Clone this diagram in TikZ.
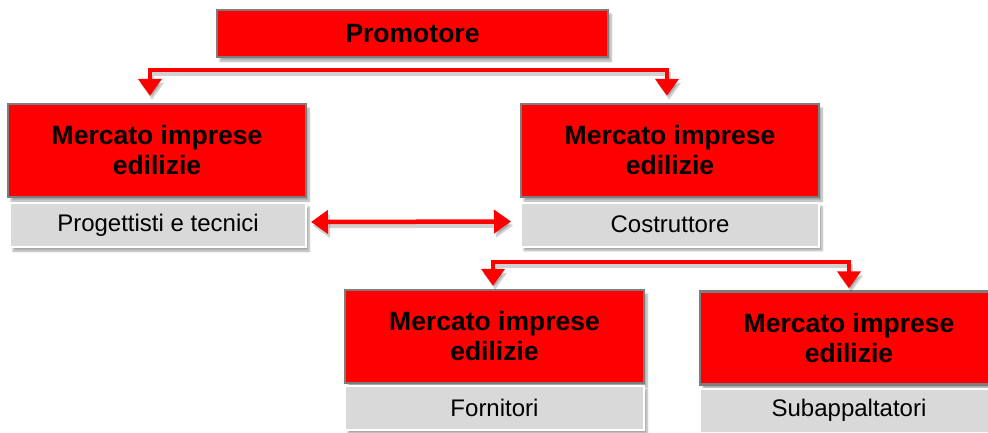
\documentclass[tikz,border=0pt]{standalone}
\usepackage{fontspec}
\setmainfont{Liberation Sans}
\usetikzlibrary{arrows.meta,shadows.blur}
\definecolor{boxred}{RGB}{255,0,0}
\definecolor{boxgray}{RGB}{217,217,217}
\definecolor{rimgray}{RGB}{125,125,125}
\tikzset{
  redbox/.style={draw=rimgray, line width=2.5pt, fill=boxred, inner sep=0pt,
    minimum width=#1, minimum height=93pt, align=center,
    font=\fontsize{26.5}{30}\selectfont\bfseries,
    blur shadow={shadow xshift=3pt, shadow yshift=-4pt, shadow blur steps=6, shadow opacity=35}},
  graybox/.style={draw=white, line width=2pt, fill=boxgray, inner sep=0pt,
    minimum width=#1, minimum height=44pt,
    font=\fontsize{24}{28}\selectfont,
    blur shadow={shadow xshift=3pt, shadow yshift=-4pt, shadow blur steps=6, shadow opacity=35}},
  topbox/.style={draw=rimgray, line width=2.5pt, fill=boxred, inner sep=0pt,
    minimum width=391pt, minimum height=47pt,
    font=\fontsize{26.5}{30}\selectfont\bfseries,
    blur shadow={shadow xshift=3pt, shadow yshift=-4pt, shadow blur steps=6, shadow opacity=35}},
  conn/.style={draw=boxred, line width=4.5pt,
    arrows={Triangle[width=23pt,length=17pt]-Triangle[width=23pt,length=17pt]}},
  connshadow/.style={draw=black, opacity=0.18, line width=4.5pt,
    transform canvas={xshift=2pt,yshift=-4pt},
    arrows={Triangle[width=23pt,length=17pt]-Triangle[width=23pt,length=17pt]}},
}
\begin{document}
\begin{tikzpicture}[x=1pt,y=-1pt]
\useasboundingbox (0,0) rectangle (988,432);
\clip (0,0) rectangle (988,432);

\node[topbox] (prom) at (412.5,33.5) {Promotore};

\node[redbox=298pt] (redL) at (157,150.5) {Mercato imprese\\edilizie};
\node[graybox=296pt] (grayL) at (158,225) {Progettisti e tecnici};

\node[redbox=298pt] (redR) at (670,150.5) {Mercato imprese\\edilizie};
\node[graybox=298pt] (grayR) at (670,224.5) {Costruttore};

\node[redbox=299pt] (redF) at (494.5,336.5) {Mercato imprese\\edilizie};
\node[graybox=299pt] (grayF) at (494.5,407.5) {Fornitori};

\node[redbox=298pt] (redS) at (849,338) {Mercato imprese\\edilizie};
\node[graybox=298pt] (grayS) at (849,410.5) {Subappaltatori};

\coordinate (topline) at (400,70);
\coordinate (lowline) at (670,262);

% top connector
\draw[connshadow, shorten <=7pt, shorten >=7pt]
  ([xshift=-7pt]redL.north) |- (topline) -| ([xshift=-3pt]redR.north);
\draw[conn, shorten <=7pt, shorten >=7pt]
  ([xshift=-7pt]redL.north) |- (topline) -| ([xshift=-3pt]redR.north);

% double arrow between gray boxes
\draw[connshadow, shorten <=4pt, shorten >=9pt]
  ([yshift=3pt]grayL.east) -- ([yshift=3pt]grayR.west);
\draw[conn, shorten <=4pt, shorten >=9pt]
  ([yshift=3pt]grayL.east) -- ([yshift=3pt]grayR.west);

% lower connector
\draw[connshadow, shorten <=3pt, shorten >=2pt]
  ([xshift=-1.5pt]redF.north) |- (lowline) -| ([xshift=0pt]redS.north);
\draw[conn, shorten <=3pt, shorten >=2pt]
  ([xshift=-1.5pt]redF.north) |- (lowline) -| ([xshift=0pt]redS.north);
\end{tikzpicture}
\end{document}
